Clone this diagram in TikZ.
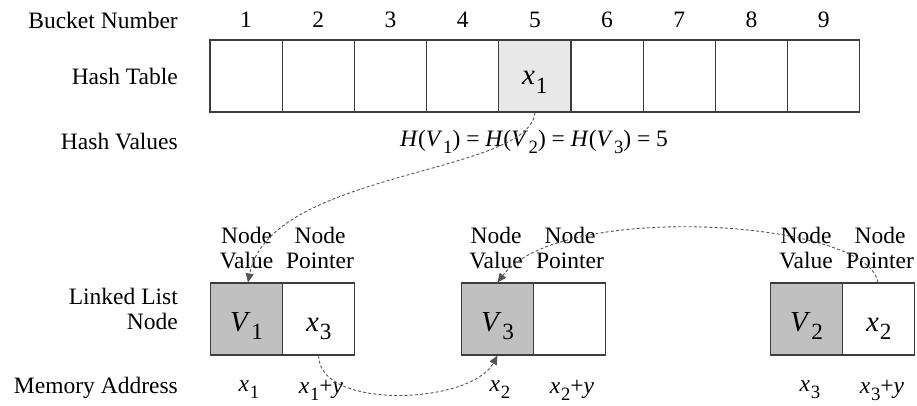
\documentclass[tikz,border=0pt]{standalone}
\usepackage{fontspec}
\setmainfont{Liberation Serif}
\usetikzlibrary{arrows.meta}
\newcommand\sbs[1]{\raisebox{-0.65ex}{\scalebox{0.8}{#1}}}
\newcommand\mv[2]{\textit{#1}\kern0.03em\sbs{#2}}
\definecolor{lineC}{HTML}{3C3C3C}
\definecolor{lightC}{HTML}{E8E8E8}
\definecolor{darkC}{HTML}{C0C0C0}
\definecolor{dashC}{HTML}{555555}
\tikzset{
  lbl/.style={anchor=east, font=\fontsize{23.5}{25}\selectfont, align=right, inner sep=0pt},
  num/.style={font=\fontsize{23.5}{25}\selectfont, inner sep=0pt},
  cell/.style={draw=lineC, line width=1.1pt, minimum width=72.2pt, minimum height=72pt, inner sep=0pt, font=\fontsize{29}{32}\selectfont, text height=28pt, text depth=4pt},
  hcell/.style={cell, text height=22pt, text depth=4pt},
  vcell/.style={cell, fill=darkC},
  hdr/.style={font=\fontsize{23.5}{25}\selectfont, align=center, inner sep=0pt},
  addr/.style={font=\fontsize{23.5}{25}\selectfont, inner sep=0pt},
  link/.style={dashed, dash pattern=on 3pt off 2.2pt, draw=dashC, line width=0.9pt, -{Triangle[length=9pt,width=8pt]}},
}
\begin{document}
\begin{tikzpicture}[x=1pt,y=-1pt]
\useasboundingbox (0,0) rectangle (917,406);
% left labels
\node[lbl] (lb) at (178,20) {Bucket Number};
\node[lbl] (lh) at (178,76) {Hash Table};
\node[lbl] (lv) at (178,142) {Hash Values};
\node[lbl] (ll) at (178,309) {Linked List\\Node};
\node[lbl] (lm) at (178,388) {Memory Address};
% hash table
\foreach \i in {1,...,9} {
  \node[hcell] (h\i) at ({210+72.2*(\i-0.5)},76) {};
  \node[num] (b\i) at ({210+72.2*(\i-0.5)},20) {\i};
}
\node[hcell, fill=lightC] (h5) at (h5) {\mv{x}{1}};
\node[num] (hv) at (534,142) {\textit{H}(\mv{V}{1}) = \textit{H}(\mv{V}{2}) = \textit{H}(\mv{V}{3}) = 5};
% linked list nodes
\node[vcell] (v1) at (246.5,319) {\mv{V}{1}};
\node[cell] (p1) at (318.7,319) {\mv{x}{3}};
\node[vcell] (v3) at (497.5,319) {\mv{V}{3}};
\node[cell] (p3) at (569.7,319) {};
\node[vcell] (v2) at (806.5,319) {\mv{V}{2}};
\node[cell] (p2) at (878.7,319) {\mv{x}{2}};
% headers
\node[hdr] (t1) at (246.5,248) {Node\\Value};
\node[hdr] (t2) at (320,248) {Node\\Pointer};
\node[hdr] (t3) at (496,248) {Node\\Value};
\node[hdr] (t4) at (570,248) {Node\\Pointer};
\node[hdr] (t5) at (806,248) {Node\\Value};
\node[hdr] (t6) at (880,248) {Node\\Pointer};
% addresses
\node[addr] (a1) at (249,390) {\mv{x}{1}};
\node[addr] (a2) at (321,390) {\mv{x}{1}+\textit{y}};
\node[addr] (a3) at (500,390) {\mv{x}{2}};
\node[addr] (a4) at (572,390) {\mv{x}{2}+\textit{y}};
\node[addr] (a5) at (810,390) {\mv{x}{3}};
\node[addr] (a6) at (882,390) {\mv{x}{3}+\textit{y}};
% connectors
\draw[link] (h5.south) .. controls (530,175) and (270,170) .. ([xshift=1.5pt]v1.north);
\draw[link] (p1.south) .. controls (318,410) and (470,405) .. (v3.south);
\draw[link] ([xshift=-1pt]p2.north) .. controls (870,220) and (560,200) .. (v3.north);
\end{tikzpicture}
\end{document}
